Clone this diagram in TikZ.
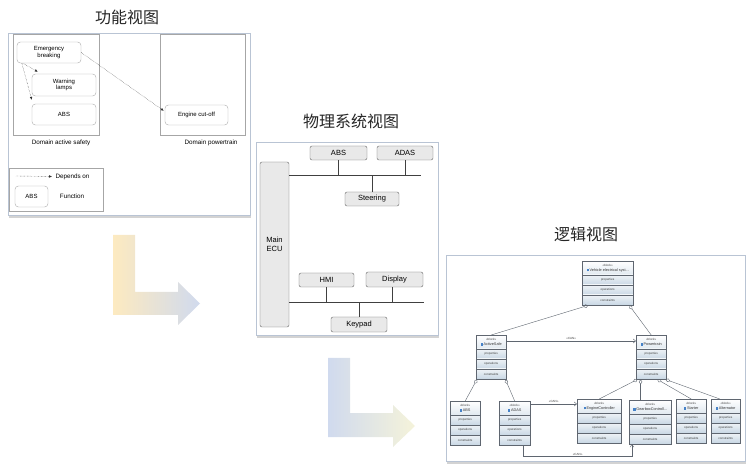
\documentclass[tikz,border=0pt]{standalone}
\usepackage{fontspec}
\setmainfont{Liberation Sans}
\newfontfamily\cjk{Noto Sans CJK SC}
\usetikzlibrary{arrows.meta, calc, shadows}

\definecolor{panelline}{RGB}{185,196,212}
\definecolor{umlfill}{RGB}{200,215,228}
\definecolor{umlline}{RGB}{95,102,112}
\definecolor{iconblue}{RGB}{70,130,200}
\definecolor{lyellow}{RGB}{253,234,192}
\definecolor{lblue}{RGB}{208,218,238}
\definecolor{lcream}{RGB}{245,243,218}

% one SysML block: name, left x, top y, width, title
\newcommand{\umlblock}[5]{%
  \path (#2,#3) node[umlbox, minimum width=#4, anchor=north west] (#1) {};
  \shade[top color=white, bottom color=umlfill!55] (#1.north west) rectangle ($(#1.north east)+(0,14)$);
  \foreach \k in {14,24,34} {
    \shade[top color=white!70!umlfill, bottom color=umlfill] ($(#1.north west)+(0,\k)$) rectangle ($(#1.north east)+(0,\k+10)$);
    \draw[umlline, very thin] ($(#1.north west)+(0,\k)$) -- ($(#1.north east)+(0,\k)$);
  }
  \draw[umlline, thin] (#1.north west) rectangle (#1.south east);
  \node[umltxt] (#1-st) at ($(#1.north)+(0,4)$) {«block»};
  \node[umlname] (#1-nm) at ($(#1.north)+(0,9.5)$) {\textcolor{iconblue}{\rule{2.4pt}{2.4pt}}\,#5};
  \node[umltxt] (#1-p) at ($(#1.north)+(0,19)$) {properties};
  \node[umltxt] (#1-o) at ($(#1.north)+(0,29)$) {operations};
  \node[umltxt] (#1-c) at ($(#1.north)+(0,39)$) {constraints};
}

\begin{document}
\begin{tikzpicture}[x=1pt, y=-1pt,
    panel/.style={draw=panelline, fill=white, inner sep=0,
      drop shadow={shadow xshift=1pt, shadow yshift=-2.5pt, opacity=0.35, fill=gray}},
    title/.style={font=\cjk\fontsize{16}{16}\selectfont, text=black!85},
    dombox/.style={draw=gray!70, inner sep=0},
    func/.style={draw=gray!65, fill=white, rounded corners=3.5pt, inner sep=0,
      align=center, font=\fontsize{6}{6.5}\selectfont},
    small/.style={font=\fontsize{6.3}{7}\selectfont},
    dep/.style={densely dotted, black!80, arrows={-Latex[length=3pt,width=2.6pt]}},
    unit/.style={draw=black!60, fill=gray!17, rounded corners=2pt, inner sep=0,
      align=center, font=\fontsize{7.5}{8.5}\selectfont},
    bus/.style={black!75, semithick},
    umlbox/.style={rectangle, inner sep=0, minimum height=44},
    umltxt/.style={inner sep=0, font=\fontsize{3}{3.2}\selectfont, text=black!75},
    umlname/.style={inner sep=0, font=\fontsize{3.8}{4}\selectfont, text=black!80},
    agg/.style={umlline, arrows={Diamond[open,length=5pt,width=3.5pt]-}},
    can/.style={umlline, arrows={-Straight Barb[length=2.5pt,width=4pt]}}]
  \useasboundingbox (0,0) rectangle (750,470);

  % Transition arrows
  \shade[left color=lyellow, right color=lblue]
    (113,235) -- (135,235) -- (135,292) -- (178,292) -- (178,282) -- (200,303.5)
    -- (178,325) -- (178,315) -- (113,315) -- cycle;
  \shade[left color=lblue, right color=lcream]
    (328,358) -- (350,358) -- (350,413) -- (393,413) -- (393,405) -- (415,426)
    -- (393,447) -- (393,437) -- (328,437) -- cycle;

  % Functional view
  \node[title] (t1) at (127,17) {功能视图};
  \node[panel, minimum width=242, minimum height=182, anchor=north west] (fview) at (8,33) {};
  \node[dombox, minimum width=86, minimum height=101] (dsafe) at (56,84.5) {};
  \node[dombox, minimum width=85, minimum height=101] (dpower) at (202.5,84.5) {};
  \node[small] (lsafe) at (61,143) {Domain active safety};
  \node[small] (lpower) at (211,143) {Domain powertrain};
  \node[func, minimum width=64, minimum height=21] (eb) at (49,52.5) {Emergency\\breaking};
  \node[func, minimum width=64, minimum height=22] (wl) at (64,85) {Warning\\lamps};
  \node[func, minimum width=64, minimum height=21] (fabs) at (64,114.5) {ABS};
  \node[func, minimum width=63, minimum height=20] (eco) at (196.5,115) {Engine cut-off};
  \draw[dep] ($(eb.south west)+(6,0)$) -- ($(wl.north west)+(6,-2)$);
  \draw[dep] ($(eb.south west)+(5,0)$) -- ($(fabs.north west)+(0,-4)$);
  \draw[dep] (eb.east) -- ($(eco.north west)+(-1,6)$);

  % Legend
  \node[dombox, minimum width=94, minimum height=43] (legend) at (56,190) {};
  \coordinate (lg1) at (16,176);
  \node[small, anchor=west] (ldep) at (52,176.5) {Depends on};
  \draw[dep] (lg1) -- (ldep.west);
  \node[func, minimum width=33, minimum height=21] (labs) at (31.5,196.5) {ABS};
  \node[small] (lfun) at (72,196) {Function};

  % Physical system view
  \node[title] (t2) at (351,121) {物理系统视图};
  \node[panel, minimum width=182, minimum height=193, anchor=north west] (pview) at (256,142) {};
  \node[unit, minimum width=29, minimum height=165] (ecu) at (274.5,244.5) {Main\\ECU};
  \node[unit, minimum width=57, minimum height=14] (pabs) at (338.5,153) {ABS};
  \node[unit, minimum width=56, minimum height=14] (padas) at (405,153) {ADAS};
  \node[unit, minimum width=54, minimum height=14] (steer) at (372,199) {Steering};
  \node[unit, minimum width=55, minimum height=14] (hmi) at (326.5,280) {HMI};
  \node[unit, minimum width=57, minimum height=15] (disp) at (394.5,279.5) {Display};
  \node[unit, minimum width=56, minimum height=15] (keypad) at (359,324.5) {Keypad};
  \coordinate (busA) at (421,175);
  \coordinate (busB) at (424,302);
  \draw[bus] (ecu.east |- busA) -- (busA);
  \draw[bus] (ecu.east |- busB) -- (busB);
  \draw[bus] (pabs.south) -- (pabs.south |- busA);
  \draw[bus] (padas.south) -- (padas.south |- busA);
  \draw[bus] (steer.north) -- (steer.north |- busA);
  \draw[bus] (hmi.south) -- (hmi.south |- busB);
  \draw[bus] ($(disp.south)+(-2,0)$) -- ($(disp.south |- busB)+(-2,0)$);
  \draw[bus] (keypad.north) -- (keypad.north |- busB);

  % Logical view
  \node[title] (t3) at (586,234) {逻辑视图};
  \node[panel, minimum width=299, minimum height=206, anchor=north west] (lview) at (446,255) {};
  \umlblock{veh}{582}{261}{51}{Vehicle electrical syst...}
  \umlblock{asafe}{476}{335}{30}{ActiveSafe}
  \umlblock{ptrain}{636}{335}{30}{Powertrain}
  \umlblock{uabs}{450}{401}{30}{ABS}
  \umlblock{uadas}{499}{401}{31}{ADAS}
  \umlblock{eng}{577}{399}{44}{EngineController}
  \umlblock{gear}{629}{400}{42}{GearboxControll...}
  \umlblock{start}{676}{399}{30}{Starter}
  \umlblock{alt}{711}{399}{29}{Alternator}

  \draw[agg] ($(veh.south west)!0.12!(veh.south east)$) -- (asafe.north);
  \draw[agg] ($(veh.south west)!0.92!(veh.south east)$) -- (ptrain.north);
  \draw[agg] ($(asafe.south west)+(1,0)$) -- (uabs.north);
  \draw[agg] ($(asafe.south east)+(-1,0)$) -- (uadas.north);
  \draw[agg] ($(ptrain.south west)!0.05!(ptrain.south east)$) -- (eng.north);
  \coordinate (gtap) at ($(ptrain.south west)!0.15!(ptrain.south east)$);
  \draw[agg] (gtap) -- (gtap |- gear.north);
  \draw[agg] ($(ptrain.south west)!0.7!(ptrain.south east)$) -- (start.north);
  \draw[agg] ($(ptrain.south west)!0.97!(ptrain.south east)$) -- ($(alt.north west)!0.3!(alt.north east)$);

  \coordinate (c1) at ($(asafe.north east)+(0,6)$);
  \draw[can] (c1) -- (c1 -| ptrain.west) node[midway, above=1pt, umltxt] (can1) {«CAN»};
  \coordinate (c2) at ($(uadas.north east)+(0,3)$);
  \draw[can] (c2) -- (c2 -| eng.west) node[midway, above=1pt, umltxt] (can2) {«CAN»};
  \coordinate (c3) at ($(uadas.south)+(8.5,0)$);
  \draw[can] (c3) -- ++(0,11) -| ($(gear.south west)+(3,0)$)
    node[pos=0.25, above=1pt, umltxt] (can3) {«CAN»};
\end{tikzpicture}
\end{document}
